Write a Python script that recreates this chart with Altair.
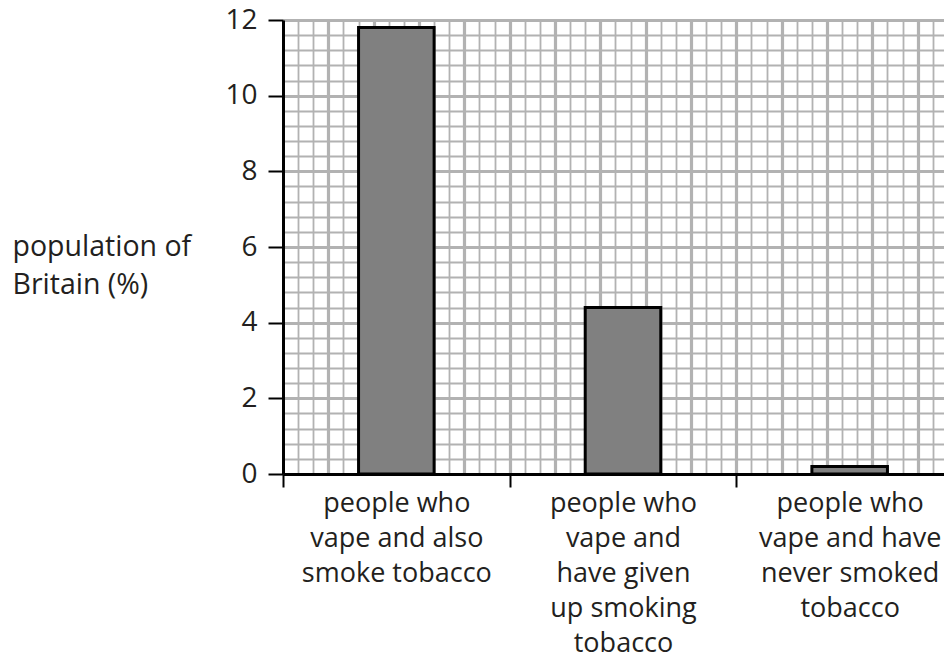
import json
import altair as alt
import pandas as pd

# ---- data ----
category_lines = [
    ["people who", "vape and also", "smoke tobacco"],
    ["people who", "vape and", "have given", "up smoking", "tobacco"],
    ["people who", "vape and have", "never smoked", "tobacco"],
]
values = [11.8, 4.4, 0.2]
y_title = ["population of", "Britain (%)"]

df = pd.DataFrame({
    "category": [" ".join(c) for c in category_lines],
    "idx": list(range(len(values))),
    "value": values,
})

FONT = "Open Sans"
TXT = "#231f20"
GRID = "#b2b2b2"

x_vals = [i / 15 for i in range(46)]
y_vals = [round(0.4 * i, 1) for i in range(31)]

lab_expr = "".join(
    f"abs(datum.value - {k}) < 0.001 ? {json.dumps(lines)} : "
    for k, lines in enumerate(category_lines)
) + "''"

major_x = "abs(datum.value*5 - round(datum.value*5)) < 0.001"
int_x = "abs(datum.value - round(datum.value)) < 0.001"
even_y = "abs(datum.value - 2*round(datum.value/2)) < 0.001"

x_axis = alt.Axis(
    values=x_vals,
    grid=True,
    gridColor=GRID,
    gridWidth={"condition": {"test": major_x, "value": 3.2}, "value": 1.8},
    gridOpacity={"condition": {"test": "datum.value < 0.001", "value": 0}, "value": 1},
    domainColor="black",
    domainWidth=3,
    ticks=True,
    tickColor="black",
    tickWidth=2,
    tickSize=13,
    tickOpacity={"condition": {"test": int_x, "value": 1}, "value": 0},
    labelExpr=lab_expr,
    labelOffset=680 / 6,
    labelAlign="center",
    labelBaseline="top",
    labelPadding=3,
    labelFont=FONT,
    labelFontSize=27,
    labelLineHeight=35,
    labelColor=TXT,
    labelLimit=0,
    labelOverlap=False,
    labelFlush=False,
    labelBound=False,
    title=None,
)

y_axis = alt.Axis(
    values=y_vals,
    grid=True,
    gridColor=GRID,
    gridWidth={"condition": {"test": even_y, "value": 3.2}, "value": 1.8},
    gridOpacity={"condition": {"test": "datum.value < 0.001", "value": 0}, "value": 1},
    domainColor="black",
    domainWidth=3,
    tickColor="black",
    tickWidth=2,
    tickSize=15,
    tickOpacity={"condition": {"test": even_y, "value": 1}, "value": 0},
    labelExpr=f"{even_y} ? format(datum.value, 'd') : ''",
    labelFont=FONT,
    labelFontSize=28,
    labelColor=TXT,
    labelPadding=11,
    labelLimit=0,
    labelOverlap=False,
    labelFlush=False,
    labelBound=False,
    title=y_title,
    titleAngle=0,
    titleAlign="left",
    titleBaseline="alphabetic",
    titleX=-271,
    titleY=235,
    titleFont=FONT,
    titleFontSize=28.5,
    titleFontWeight="normal",
    titleColor=TXT,
    titleLineHeight=38,
    titleLimit=0,
)

chart = (
    alt.Chart(df)
    .transform_calculate(x1="datum.idx + 1/3", x2="datum.idx + 2/3")
    .mark_bar(color="#808080", stroke="black", strokeWidth=3)
    .encode(
        x=alt.X("x1:Q", scale=alt.Scale(domain=[0, 3], range=[0, 680], nice=False, zero=False), axis=x_axis),
        x2="x2:Q",
        y=alt.Y("value:Q", scale=alt.Scale(domain=[0, 12], nice=False), axis=y_axis),
        y2=alt.datum(0),
    )
    .properties(
        width=661,
        height=454,
        padding={"left": 275, "top": 12, "right": 0, "bottom": 184},
        autosize=alt.AutoSizeParams(type="none"),
    )
    .configure_view(strokeWidth=0)
)

chart.save("out.html", embed_options={"renderer": "svg", "actions": False})
